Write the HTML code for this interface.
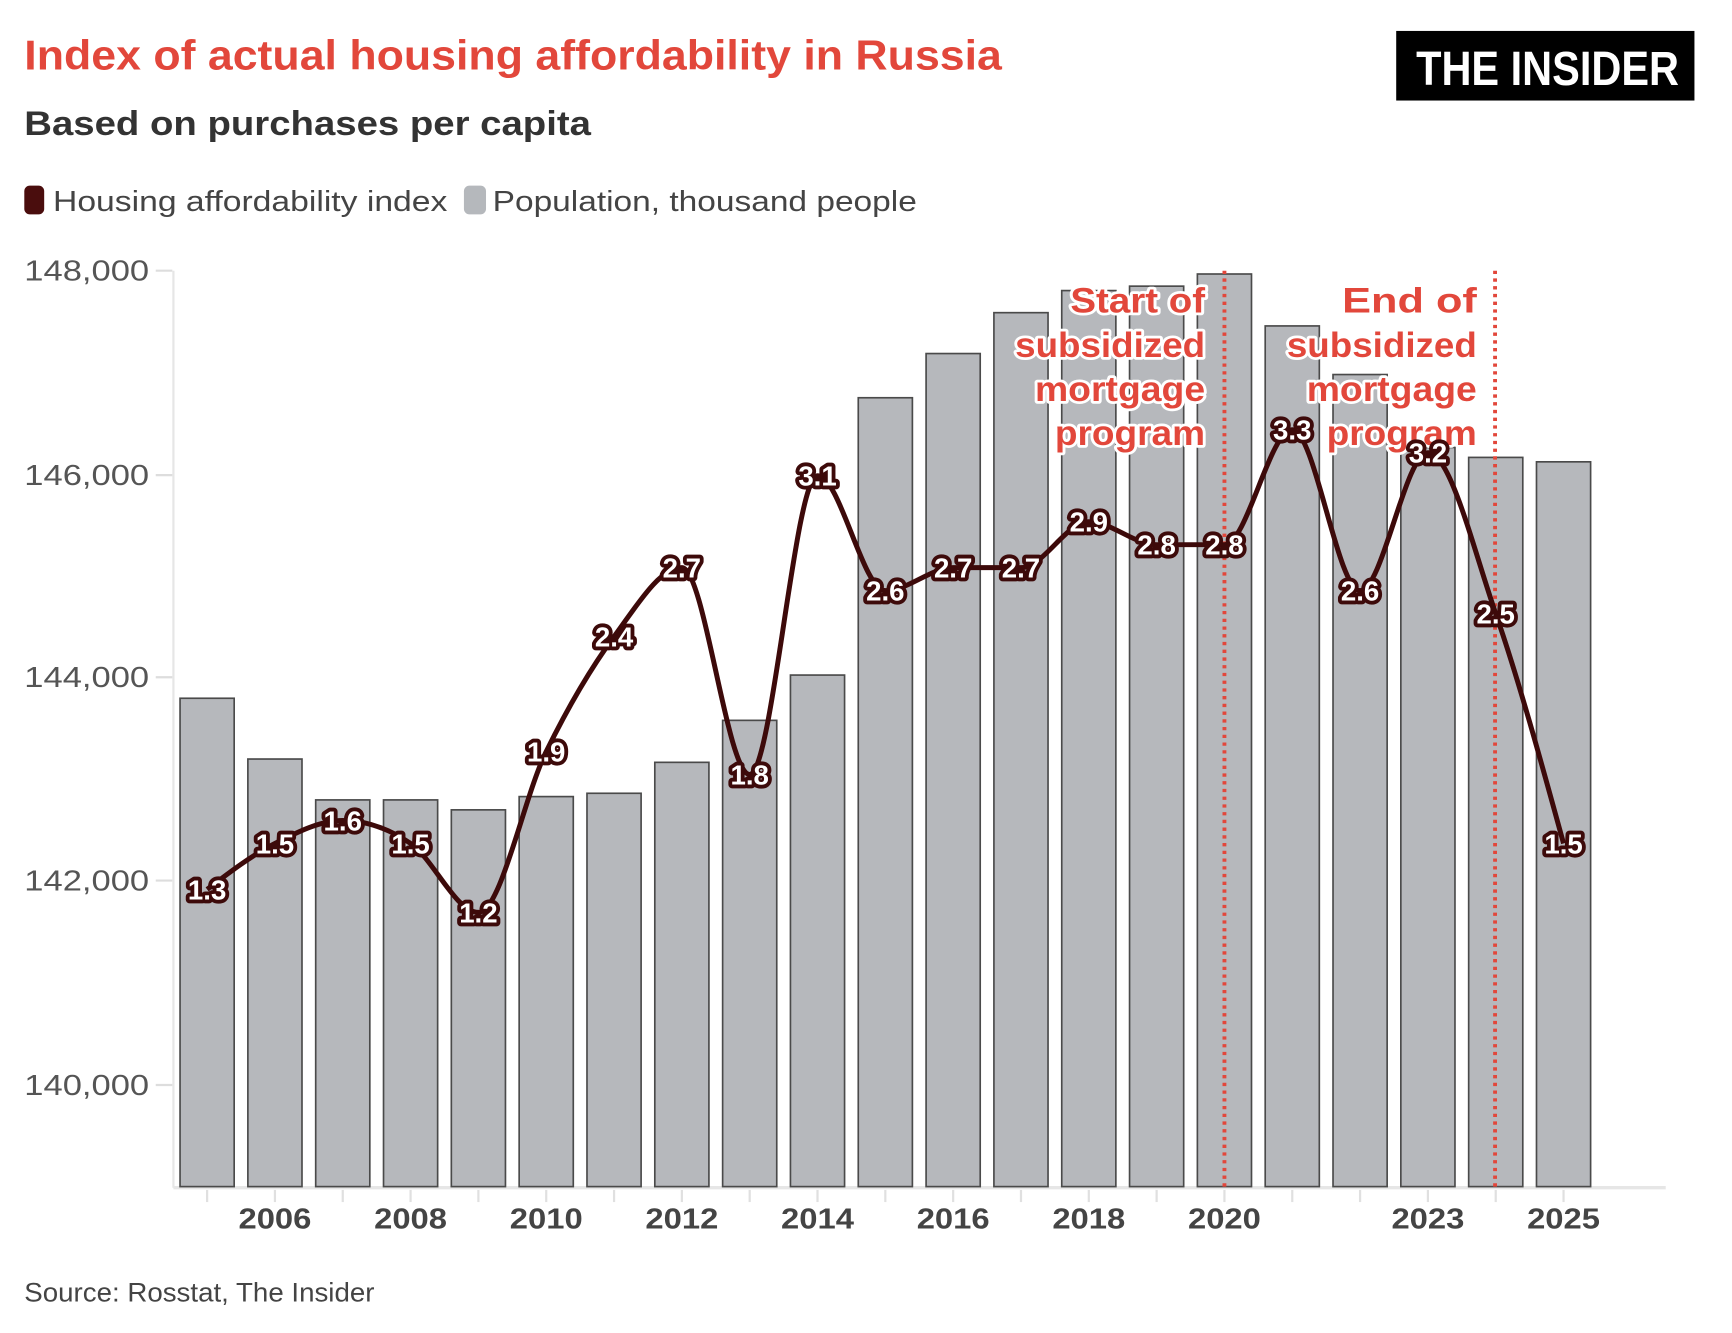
<!DOCTYPE html>
<html><head><meta charset="utf-8">
<style>
html,body{margin:0;padding:0;background:#fff;}
svg{display:block;}
text{font-family:"Liberation Sans",sans-serif;}
</style></head>
<body>
<svg id="s" width="1732" height="1333" viewBox="0 0 1568 1206.5" preserveAspectRatio="none" xmlns="http://www.w3.org/2000/svg">
<rect width="1568" height="1206.5" fill="#fff"/>
<text x="22" y="63" font-size="38" font-weight="bold" fill="#e2473b" textLength="885" lengthAdjust="spacingAndGlyphs">Index of actual housing affordability in Russia</text>
<text x="22" y="122" font-size="31" font-weight="bold" fill="#333" textLength="513" lengthAdjust="spacingAndGlyphs">Based on purchases per capita</text>
<rect x="1264" y="28" width="270" height="63" fill="#000"/>
<text x="1282" y="77" font-size="44" font-weight="bold" fill="#fff" textLength="238" lengthAdjust="spacingAndGlyphs">THE INSIDER</text>
<rect x="22" y="168" width="18" height="26" rx="5" fill="#4a0d0d"/>
<text x="48" y="191" font-size="26" fill="#444" textLength="357" lengthAdjust="spacingAndGlyphs">Housing affordability index</text>
<rect x="420" y="168" width="20" height="26" rx="5" fill="#b5b8bc"/>
<text x="446" y="191" font-size="26" fill="#444" textLength="384" lengthAdjust="spacingAndGlyphs">Population, thousand people</text>
<g id="g"></g>
<text x="22" y="1178" font-size="24" fill="#444" textLength="317" lengthAdjust="spacingAndGlyphs">Source: Rosstat, The Insider</text>
</svg>
<script>
var NS="http://www.w3.org/2000/svg",g=document.getElementById('g');
function el(t,a,txt){var e=document.createElementNS(NS,t);for(var k in a)e.setAttribute(k,a[k]);if(txt!==undefined)e.textContent=txt;g.appendChild(e);return e;}
el('line',{x1:157,y1:245,x2:157,y2:1075,stroke:'#e6e6e6','stroke-width':2});
el('line',{x1:157,y1:1075,x2:1508,y2:1075,stroke:'#e6e6e6','stroke-width':3});
var yl=[["148,000",245],["146,000",430],["144,000",613],["142,000",797],["140,000",982]];
yl.forEach(function(d){el('line',{x1:141,y1:d[1],x2:156,y2:d[1],stroke:'#ddd','stroke-width':2});
el('text',{x:135,y:d[1]+9,'font-size':26,fill:'#555','text-anchor':'end',textLength:113,lengthAdjust:'spacingAndGlyphs'},d[0]);});
var tops=[632,687,724,724,733,721,718,690,652,611,360,320,283,263,259,248,295,339,405,414,418];
for(var i=0;i<21;i++){var x=163+61.4*i;
el('rect',{x:x,y:tops[i],width:49,height:1074-tops[i],fill:'#b6b8bc',stroke:'#4a4a4a','stroke-width':1.5});
el('line',{x1:x+24.5,y1:1077,x2:x+24.5,y2:1088,stroke:'#e0e0e0','stroke-width':2});}
var xl={1:"2006",3:"2008",5:"2010",7:"2012",9:"2014",11:"2016",13:"2018",15:"2020",18:"2023",20:"2025"};
for(var k in xl){el('text',{x:187.5+61.4*k,y:1112,'font-size':26,'font-weight':'bold',fill:'#444','text-anchor':'middle',textLength:66,lengthAdjust:'spacingAndGlyphs'},xl[k]);}
[1108.5,1353.5].forEach(function(x){el('line',{x1:x,y1:245,x2:x,y2:1075,stroke:'#e2473b','stroke-width':3.5,'stroke-dasharray':'3 4'});});
function ann(x,lines){lines.forEach(function(t,j){var a={x:x,y:283+40*j,'font-size':32,'font-weight':'bold','text-anchor':'end',textLength:[122,172,154,136][j],lengthAdjust:'spacingAndGlyphs'};
el('text',Object.assign({},a,{fill:'none',stroke:'#fff','stroke-width':5,'stroke-linejoin':'round'}),t);
el('text',Object.assign({},a,{fill:'#e2473b'}),t);});}
ann(1091,["Start of","subsidized","mortgage","program"]);
ann(1337,["End of","subsidized","mortgage","program"]);
var v=[1.3,1.5,1.6,1.5,1.2,1.9,2.4,2.7,1.8,3.1,2.6,2.7,2.7,2.9,2.8,2.8,3.3,2.6,3.2,2.5,1.5];
var P=v.map(function(a,i){return [187.5+61.4*i,805-(a-1.3)*208];});
var n=P.length,h=61.4,s=[],m=[];
for(var i=0;i<n-1;i++)s.push((P[i+1][1]-P[i][1])/h);
for(var i=0;i<n;i++){if(i==0)m.push(s[0]);else if(i==n-1)m.push(s[n-2]);else{
 var a=s[i-1],b=s[i];if(a*b<=0)m.push(0);else{var p=(a+b)/2;m.push((a>0?1:-1)*Math.min(Math.abs(p),2*Math.abs(a),2*Math.abs(b)));}}}
m[0]=(3*s[0]-m[1])/2;m[n-1]=(3*s[n-2]-m[n-2])/2;
var d="M"+P[0][0]+","+P[0][1];
for(var i=0;i<n-1;i++){var x0=P[i][0],y0=P[i][1],x1=P[i+1][0],y1=P[i+1][1];
d+=" C"+(x0+h/3)+","+(y0+m[i]*h/3)+" "+(x1-h/3)+","+(y1-m[i+1]*h/3)+" "+x1+","+y1;}
el('path',{d:d,fill:'none',stroke:'#3d0a0a','stroke-width':4.5,'stroke-linejoin':'round'});
P.forEach(function(p,i){var t=v[i].toFixed(1);var a={x:p[0],y:p[1]+9,'font-size':25,'font-weight':'bold','text-anchor':'middle'};
el('text',Object.assign({},a,{fill:'none',stroke:'#3d0a0a','stroke-width':7,'stroke-linejoin':'round'}),t);
el('text',Object.assign({},a,{fill:'#fff'}),t);});
</script>
</body></html>
